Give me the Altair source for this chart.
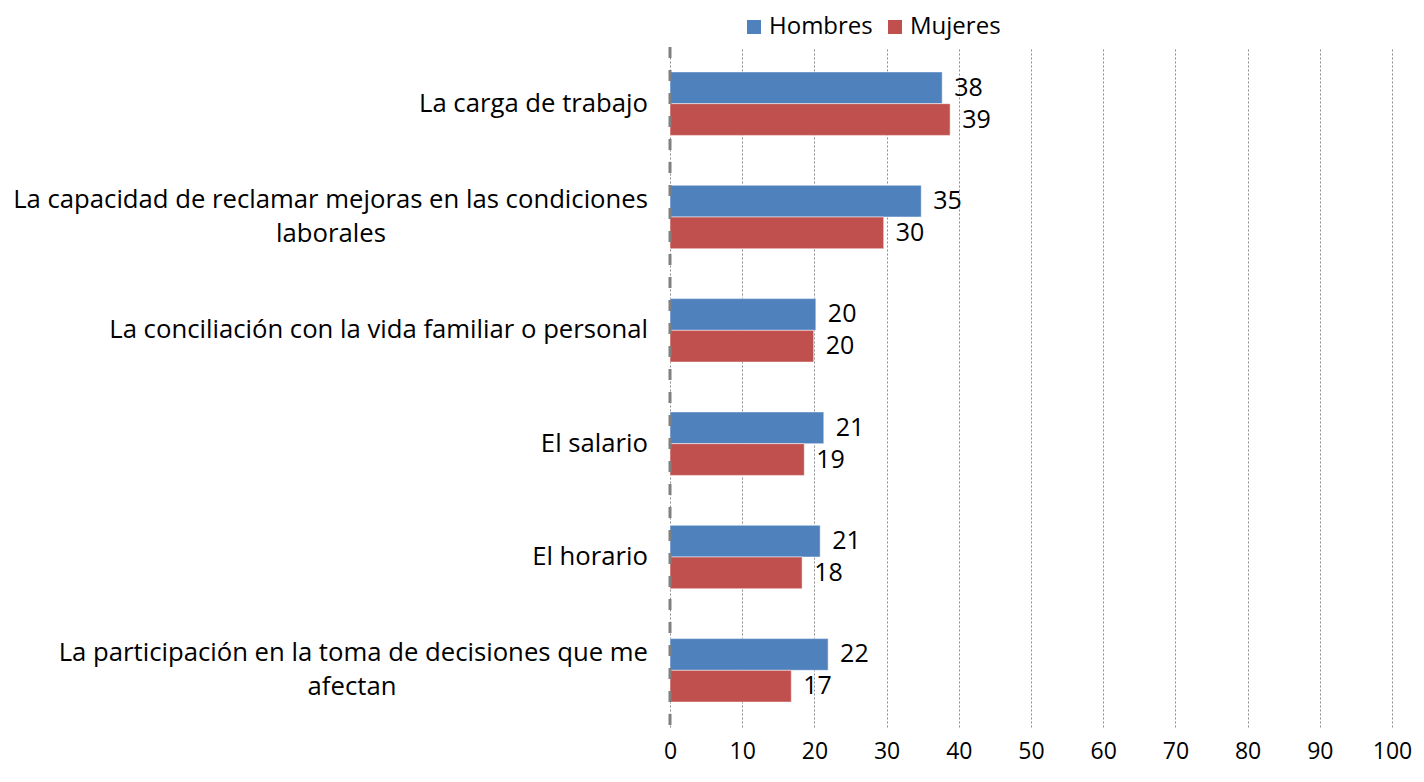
import altair as alt
import pandas as pd

categories = [
    "La carga de trabajo",
    "La capacidad de reclamar mejoras en las condiciones laborales",
    "La conciliación con la vida familiar o personal",
    "El salario",
    "El horario",
    "La participación en la toma de decisiones que me afectan",
]
hombres = [37.7, 34.8, 20.2, 21.3, 20.8, 21.9]
mujeres = [38.8, 29.6, 19.9, 18.6, 18.3, 16.8]
series = ["Hombres", "Mujeres"]
colors = ["#4F81BD", "#C0504D"]
x_ticks = [0, 10, 20, 30, 40, 50, 60, 70, 80, 90, 100]

FONT = "Open Sans"
FS = 25
CFS = 25.7

rows = []
for c, h, m in zip(categories, hombres, mujeres):
    rows.append({"cat": c, "serie": "Hombres", "val": h})
    rows.append({"cat": c, "serie": "Mujeres", "val": m})
df = pd.DataFrame(rows)

yscale = alt.Scale(domain=categories, paddingInner=0.44, paddingOuter=0.22)
base = alt.Chart(df)

bars = base.mark_bar(strokeWidth=1, strokeOpacity=0.5, stroke="#ffffff").encode(
    x=alt.X("val:Q", scale=alt.Scale(domain=[0, 100], nice=False),
            axis=alt.Axis(values=x_ticks, title=None, grid=True, gridDash=[2, 2],
                          gridColor="#8c8c8c", gridWidth=1, domain=False, ticks=False,
                          labelFont=FONT, labelFontSize=23, labelColor="#000000",
                          labelPadding=13, labelFlush=False, labelOverlap=False)),
    y=alt.Y("cat:N", scale=yscale, axis=None),
    yOffset=alt.YOffset("serie:N", scale=alt.Scale(domain=series)),
    color=alt.Color("serie:N", scale=alt.Scale(domain=series, range=colors),
                    legend=alt.Legend(title=None, orient="none", direction="horizontal",
                                      legendX=72, legendY=-32, symbolType="square",
                                      symbolSize=196, symbolStrokeWidth=0,
                                      labelFont=FONT, labelFontSize=24,
                                      labelColor="#000000", columnPadding=10,
                                      labelOffset=3, padding=0, labelLimit=300)),
)

labels = base.mark_text(align="left", baseline="middle", dx=12, font=FONT,
                        fontSize=FS, color="#000000").encode(
    x="val:Q",
    y=alt.Y("cat:N", scale=yscale, axis=None),
    yOffset=alt.YOffset("serie:N", scale=alt.Scale(domain=series)),
    text=alt.Text("val:Q", format=".0f"),
)

zero = alt.Chart(pd.DataFrame({"z": [0]})).mark_rule(
    color="#808080", strokeWidth=3, strokeDash=[11, 12]
).encode(x="z:Q", y=alt.value(0), y2=alt.value(688))

# category labels
single = pd.DataFrame({"cat": [categories[0], categories[2], categories[3], categories[4]],
                       "txt": [categories[0], categories[2], categories[3], categories[4]]})
ylab_single = alt.Chart(single).mark_text(align="right", baseline="middle", font=FONT,
                                          fontSize=CFS, color="#000000").encode(
    x=alt.value(-22), y=alt.Y("cat:N", scale=yscale, axis=None), text="txt:N")

two1 = pd.DataFrame({"cat": [categories[1], categories[5]],
                     "txt": ["La capacidad de reclamar mejoras en las condiciones",
                             "La participación en la toma de decisiones que me"]})
ylab_two1 = alt.Chart(two1).mark_text(align="right", baseline="middle", dy=-17, font=FONT,
                                      fontSize=CFS, color="#000000").encode(
    x=alt.value(-22), y=alt.Y("cat:N", scale=yscale, axis=None), text="txt:N")

l2a = alt.Chart(pd.DataFrame({"cat": [categories[1]], "txt": ["laborales"]})).mark_text(
    align="center", baseline="middle", dy=17, font=FONT, fontSize=CFS, color="#000000").encode(
    x=alt.value(-339), y=alt.Y("cat:N", scale=yscale, axis=None), text="txt:N")
l2b = alt.Chart(pd.DataFrame({"cat": [categories[5]], "txt": ["afectan"]})).mark_text(
    align="center", baseline="middle", dy=17, font=FONT, fontSize=CFS, color="#000000").encode(
    x=alt.value(-318), y=alt.Y("cat:N", scale=yscale, axis=None), text="txt:N")

chart = alt.layer(bars, zero, labels, ylab_single, ylab_two1, l2a, l2b).properties(
    width=722, height=680,
    padding={"left": 662, "top": 39, "right": 24, "bottom": 47},
    autosize=alt.AutoSizeParams(type="none"),
).configure_view(stroke=None)

chart.save("out.html", embed_options={"renderer": "svg", "actions": False})
